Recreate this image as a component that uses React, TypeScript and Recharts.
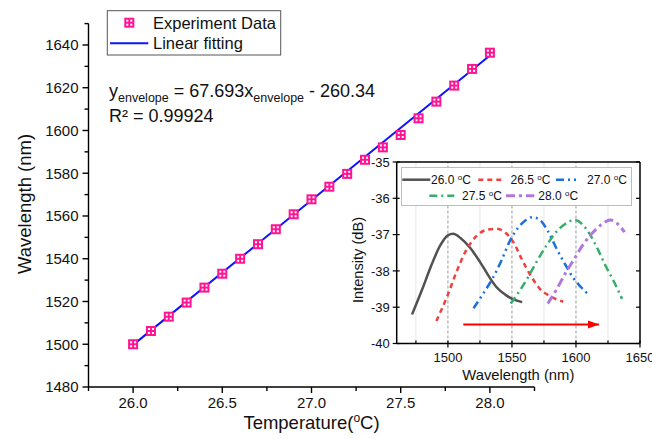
import React from "react";
import {
  ComposedChart,
  LineChart,
  Line,
  Scatter,
  XAxis,
  YAxis,
  ReferenceLine,
} from "recharts";

// ---------- Main chart data ----------
const temps = [26.0, 26.1, 26.2, 26.3, 26.4, 26.5, 26.6, 26.7, 26.8, 26.9, 27.0, 27.1, 27.2, 27.3, 27.4, 27.5, 27.6, 27.7, 27.8, 27.9, 28.0];
const wavelengths = [1500, 1506.2, 1512.9, 1519.5, 1526.5, 1533.0, 1540.0, 1546.8, 1553.8, 1560.8, 1567.8, 1573.7, 1579.7, 1586.3, 1592.1, 1597.9, 1605.7, 1613.5, 1621.0, 1628.8, 1636.4];
const fitTemps = [26.0, 28.0];
const fitWavelengths = [1499.7, 1635.1];

const mainXTicks = [25.75, 26.0, 26.25, 26.5, 26.75, 27.0, 27.25, 27.5, 27.75, 28.0, 28.25];
const mainXMajor = [26.0, 26.5, 27.0, 27.5, 28.0];
const mainYTicks = [1480, 1490, 1500, 1510, 1520, 1530, 1540, 1550, 1560, 1570, 1580, 1590, 1600, 1610, 1620, 1630, 1640, 1650];
const mainYMajor = [1480, 1500, 1520, 1540, 1560, 1580, 1600, 1620, 1640];

// ---------- Inset data (wavelength nm, intensity dB) ----------
const wl260 = [1472, 1480, 1487, 1494, 1500, 1504, 1510, 1517, 1525, 1532, 1538, 1545, 1552, 1558];
const db260 = [-39.2, -38.5, -37.85, -37.3, -37.02, -36.98, -37.1, -37.35, -37.75, -38.15, -38.45, -38.66, -38.8, -38.86];
const wl265 = [1491, 1500, 1507, 1514, 1522, 1530, 1538, 1545, 1551, 1558, 1565, 1572, 1580, 1590];
const db265 = [-39.38, -38.65, -38.0, -37.45, -37.05, -36.87, -36.84, -36.95, -37.2, -37.7, -38.15, -38.5, -38.7, -38.85];
const wl270 = [1520, 1528, 1535, 1542, 1548, 1555, 1561, 1566, 1572, 1578, 1585, 1592, 1598, 1604, 1610];
const db270 = [-39.03, -38.6, -38.2, -37.7, -37.2, -36.8, -36.6, -36.52, -36.6, -36.9, -37.4, -37.85, -38.2, -38.45, -38.66];
const wl275 = [1549, 1556, 1563, 1570, 1577, 1584, 1591, 1599, 1605, 1611, 1617, 1623, 1629, 1636];
const db275 = [-38.9, -38.55, -38.15, -37.7, -37.3, -36.95, -36.72, -36.6, -36.72, -37.0, -37.4, -37.85, -38.25, -38.77];
const wl280 = [1578, 1585, 1592, 1599, 1606, 1613, 1620, 1627, 1633, 1638];
const db280 = [-38.9, -38.5, -38.05, -37.65, -37.25, -36.95, -36.72, -36.6, -36.72, -36.93];
const arrowWl = [1512, 1618];
const arrowDb = [-39.48, -39.48];

const insetXTicks = [1475, 1500, 1525, 1550, 1575, 1600, 1625, 1650];
const insetXMajor = [1500, 1550, 1600, 1650];
const insetYTicks = [-40, -39, -38, -37, -36, -35];
const dashedGridX = [1500, 1550, 1600];
const lightGridX = [1475, 1525, 1575, 1625];

const seriesLabels = ["26.0", "26.5", "27.0", "27.5", "28.0"];

const FONT = "'Liberation Sans', Arial, sans-serif";
const PINK = "#ff1493";
const BLUE = "#0a14ff";

const zip = (xs: number[], ys: number[]) => xs.map((x, i) => ({ x, y: ys[i] }));

const mainPoints = zip(temps, wavelengths);
const fitLine = zip(fitTemps, fitWavelengths);

const spectra = [
  { name: seriesLabels[0], data: zip(wl260, db260), color: "#515151", dash: undefined, width: 2.5 },
  { name: seriesLabels[1], data: zip(wl265, db265), color: "#F14040", dash: "5 4", width: 2.5 },
  { name: seriesLabels[2], data: zip(wl270, db270), color: "#1A6FDF", dash: "8 4 2 4 2 4", width: 2.5 },
  { name: seriesLabels[3], data: zip(wl275, db275), color: "#37AD6B", dash: "8 4 2 4", width: 2.5 },
  { name: seriesLabels[4], data: zip(wl280, db280), color: "#B177DE", dash: "9 4 3 4", width: 3 },
];
const arrowData = zip(arrowWl, arrowDb);

// ---------- Marker ----------
const PinkMarker = (props: any) => {
  const { cx, cy } = props;
  if (cx == null || cy == null) return null;
  return (
    <g>
      <rect x={cx - 5} y={cy - 5} width={10} height={10} fill={PINK} />
      <rect x={cx - 3} y={cy - 3} width={2} height={2} fill="#fff" />
      <rect x={cx + 1} y={cy - 3} width={2} height={2} fill="#fff" />
      <rect x={cx - 3} y={cy + 1} width={2} height={2} fill="#fff" />
      <rect x={cx + 1} y={cy + 1} width={2} height={2} fill="#fff" />
    </g>
  );
};

// ---------- Ticks ----------
const MainXTick = (props: any) => {
  const { x, y, payload } = props;
  const v = payload.value;
  const major = mainXMajor.includes(v);
  return (
    <g>
      <line x1={x} x2={x} y1={y} y2={y + (major ? 6 : 4)} stroke="#000" strokeWidth={1.4} />
      {major && (
        <text x={x} y={y + 21} textAnchor="middle" fontSize={15} fontFamily={FONT} fill="#111">
          {v.toFixed(1)}
        </text>
      )}
    </g>
  );
};

const MainYTick = (props: any) => {
  const { x, y, payload } = props;
  const v = payload.value;
  const major = mainYMajor.includes(v);
  return (
    <g>
      <line x1={x - (major ? 6 : 4)} x2={x} y1={y} y2={y} stroke="#000" strokeWidth={1.4} />
      {major && (
        <text x={x - 10} y={y} dy="0.36em" textAnchor="end" fontSize={15} fontFamily={FONT} fill="#111">
          {v}
        </text>
      )}
    </g>
  );
};

const InsetBottomTick = (props: any) => {
  const { x, y, payload } = props;
  const v = payload.value;
  const major = insetXMajor.includes(v);
  return (
    <g>
      {major ? (
        <line x1={x} x2={x} y1={y - 3} y2={y + 4} stroke="#000" strokeWidth={1.2} />
      ) : (
        <line x1={x} x2={x} y1={y - 3} y2={y} stroke="#000" strokeWidth={1.2} />
      )}
      {major && (
        <text x={x} y={y + 18} textAnchor="middle" fontSize={13} fontFamily={FONT} fill="#111">
          {v}
        </text>
      )}
    </g>
  );
};

const InsetTopTick = (props: any) => {
  const { x, y } = props;
  return <line x1={x} x2={x} y1={y} y2={y + 4} stroke="#000" strokeWidth={1.2} />;
};

const InsetLeftTick = (props: any) => {
  const { x, y, payload } = props;
  return (
    <g>
      <line x1={x - 4} x2={x + 3} y1={y} y2={y} stroke="#000" strokeWidth={1.2} />
      <text x={x - 7} y={y} dy="0.36em" textAnchor="end" fontSize={13} fontFamily={FONT} fill="#111">
        {payload.value}
      </text>
    </g>
  );
};

const InsetRightTick = (props: any) => {
  const { x, y } = props;
  return <line x1={x - 4} x2={x} y1={y} y2={y} stroke="#000" strokeWidth={1.2} />;
};

const ArrowDot = (props: any) => {
  const { cx, cy, index } = props;
  if (index !== 1 || cx == null) return <g key={`a${index}`} />;
  return <polygon key="ahead" points={`${cx},${cy} ${cx - 11},${cy - 4} ${cx - 11},${cy + 4}`} fill="#ff0000" />;
};

// ---------- Component ----------
export default function App() {
  return (
    <div style={{ position: "absolute", left: 0, top: 0, width: 652, height: 439, background: "#fff", fontFamily: FONT }}>
      {/* Main chart */}
      <div style={{ position: "absolute", left: 0, top: 0 }}>
        <ComposedChart width={652} height={439} margin={{ top: 23.6, right: 117.5, bottom: 22, left: 28.5 }}>
          <XAxis
            type="number"
            dataKey="x"
            domain={[25.75, 28.25]}
            ticks={mainXTicks}
            interval={0}
            allowDataOverflow
            height={30}
            tickSize={0}
            tickMargin={0}
            tickLine={false}
            tick={<MainXTick />}
            axisLine={{ stroke: "#000", strokeWidth: 1.4 }}
            label={{
              content: () => (
                <text x={311.5} y={429} textAnchor="middle" fontSize={18.5} fontFamily={FONT} fill="#111">
                  Temperature(
                  <tspan dy={-7} fontSize={12}>o</tspan>
                  <tspan dy={7}>C)</tspan>
                </text>
              ),
            }}
          />
          <YAxis
            type="number"
            dataKey="y"
            domain={[1480, 1650]}
            ticks={mainYTicks}
            interval={0}
            allowDataOverflow
            width={60}
            tickSize={0}
            tickMargin={0}
            tickLine={false}
            tick={<MainYTick />}
            axisLine={{ stroke: "#000", strokeWidth: 1.4 }}
            label={{
              content: () => (
                <text
                  x={24}
                  y={204}
                  transform="rotate(-90 24 204)"
                  dy="0.36em"
                  textAnchor="middle"
                  fontSize={18.5}
                  fontFamily={FONT}
                  fill="#111"
                >
                  Wavelength (nm)
                </text>
              ),
            }}
          />
          <Scatter data={mainPoints} shape={<PinkMarker />} isAnimationActive={false} />
          <Line
            data={fitLine}
            dataKey="y"
            type="linear"
            stroke={BLUE}
            strokeWidth={2}
            dot={false}
            activeDot={false}
            isAnimationActive={false}
          />
        </ComposedChart>
      </div>

      {/* Main legend + equation */}
      <svg
        width={652}
        height={439}
        style={{ position: "absolute", left: 0, top: 0, pointerEvents: "none" }}
      >
        <rect x={107.3} y={10.7} width={173.4} height={44.3} fill="#fff" stroke="#555" strokeWidth={1} />
        <PinkMarker cx={129.3} cy={22.7} />
        <text x={153} y={28.6} fontSize={16.5} fontFamily={FONT} fill="#111">Experiment Data</text>
        <line x1={110} x2={148.3} y1={43.3} y2={43.3} stroke={BLUE} strokeWidth={2} />
        <text x={153} y={49.2} fontSize={16.5} fontFamily={FONT} fill="#111">Linear fitting</text>

        <text x={109} y={97} fontSize={18} fontFamily={FONT} fill="#111">
          y<tspan dy={5} fontSize={12.5}>envelope</tspan>
          <tspan dy={-5}> = 67.693x</tspan>
          <tspan dy={5} fontSize={12.5}>envelope</tspan>
          <tspan dy={-5}> - 260.34</tspan>
        </text>
        <text x={109} y={121.7} fontSize={18} fontFamily={FONT} fill="#111">R² = 0.99924</text>
      </svg>

      {/* Inset chart */}
      <div style={{ position: "absolute", left: 330, top: 130 }}>
        <LineChart width={322} height={270} margin={{ top: 31, right: 11, bottom: 26.5, left: 36.7 }}>
          <XAxis
            xAxisId="b"
            type="number"
            dataKey="x"
            domain={[1460, 1650]}
            ticks={insetXTicks}
            interval={0}
            allowDataOverflow
            height={30}
            tickSize={0}
            tickMargin={0}
            tickLine={false}
            tick={<InsetBottomTick />}
            axisLine={{ stroke: "#000", strokeWidth: 1.5 }}
            label={{
              content: () => (
                <text x={188.3} y={250} textAnchor="middle" fontSize={14.8} fontFamily={FONT} fill="#111">
                  Wavelength (nm)
                </text>
              ),
            }}
          />
          <XAxis
            xAxisId="t"
            orientation="top"
            type="number"
            domain={[1460, 1650]}
            ticks={insetXTicks}
            interval={0}
            allowDataOverflow
            height={1}
            tickSize={0}
            tickMargin={0}
            tickLine={false}
            tick={<InsetTopTick />}
            axisLine={{ stroke: "#000", strokeWidth: 1.5 }}
          />
          <YAxis
            yAxisId="l"
            type="number"
            dataKey="y"
            domain={[-40, -35]}
            ticks={insetYTicks}
            interval={0}
            allowDataOverflow
            width={30}
            tickSize={0}
            tickMargin={0}
            tickLine={false}
            tick={<InsetLeftTick />}
            axisLine={{ stroke: "#000", strokeWidth: 1.5 }}
            label={{
              content: () => (
                <text
                  x={28}
                  y={130}
                  transform="rotate(-90 28 130)"
                  dy="0.36em"
                  textAnchor="middle"
                  fontSize={14.6}
                  fontFamily={FONT}
                  fill="#111"
                >
                  Intensity (dB)
                </text>
              ),
            }}
          />
          <YAxis
            yAxisId="r"
            orientation="right"
            type="number"
            domain={[-40, -35]}
            ticks={insetYTicks}
            interval={0}
            allowDataOverflow
            width={1}
            tickSize={0}
            tickMargin={0}
            tickLine={false}
            tick={<InsetRightTick />}
            axisLine={{ stroke: "#000", strokeWidth: 1.5 }}
          />
          {lightGridX.map((v) => (
            <ReferenceLine key={`lg${v}`} x={v} xAxisId="b" yAxisId="l" stroke="#e6e6e6" strokeWidth={1} />
          ))}
          {dashedGridX.map((v) => (
            <ReferenceLine key={`dg${v}`} x={v} xAxisId="b" yAxisId="l" stroke="#9a9a9a" strokeWidth={1} strokeDasharray="3 2" />
          ))}
          {spectra.map((s) => (
            <Line
              key={s.name}
              xAxisId="b"
              yAxisId="l"
              data={s.data}
              dataKey="y"
              type="monotone"
              stroke={s.color}
              strokeWidth={s.width}
              strokeDasharray={s.dash}
              dot={false}
              activeDot={false}
              isAnimationActive={false}
            />
          ))}
          <Line
            xAxisId="b"
            yAxisId="l"
            data={arrowData}
            dataKey="y"
            type="linear"
            stroke="#ff0000"
            strokeWidth={2}
            dot={<ArrowDot />}
            activeDot={false}
            isAnimationActive={false}
          />
        </LineChart>
      </div>

      {/* Inset legend */}
      <svg
        width={232}
        height={40}
        style={{ position: "absolute", left: 401.2, top: 166.8, pointerEvents: "none" }}
      >
        <rect x={0.5} y={0.5} width={230} height={38} fill="#fff" stroke="#bdbdbd" strokeWidth={1} />
        {[
          { lx: 1.3, lw: 28, tx: 30, ty: 12.7 },
          { lx: 77.3, lw: 23, tx: 109.6, ty: 12.7 },
          { lx: 155, lw: 23.3, tx: 186, ty: 12.7 },
          { lx: 28.3, lw: 25, tx: 61, ty: 28.7 },
          { lx: 105, lw: 28.3, tx: 137.3, ty: 28.7 },
        ].map((p, i) => {
          const s = spectra[i];
          return (
            <g key={s.name}>
              <line
                x1={p.lx}
                x2={p.lx + p.lw}
                y1={p.ty}
                y2={p.ty}
                stroke={s.color}
                strokeWidth={s.width}
                strokeDasharray={s.dash}
              />
              <text x={p.tx} y={p.ty} dy="0.36em" fontSize={12} fontFamily={FONT} fill="#111">
                {s.name} <tspan dy={-4.5} fontSize={8}>o</tspan>
                <tspan dy={4.5}>C</tspan>
              </text>
            </g>
          );
        })}
      </svg>
    </div>
  );
}
